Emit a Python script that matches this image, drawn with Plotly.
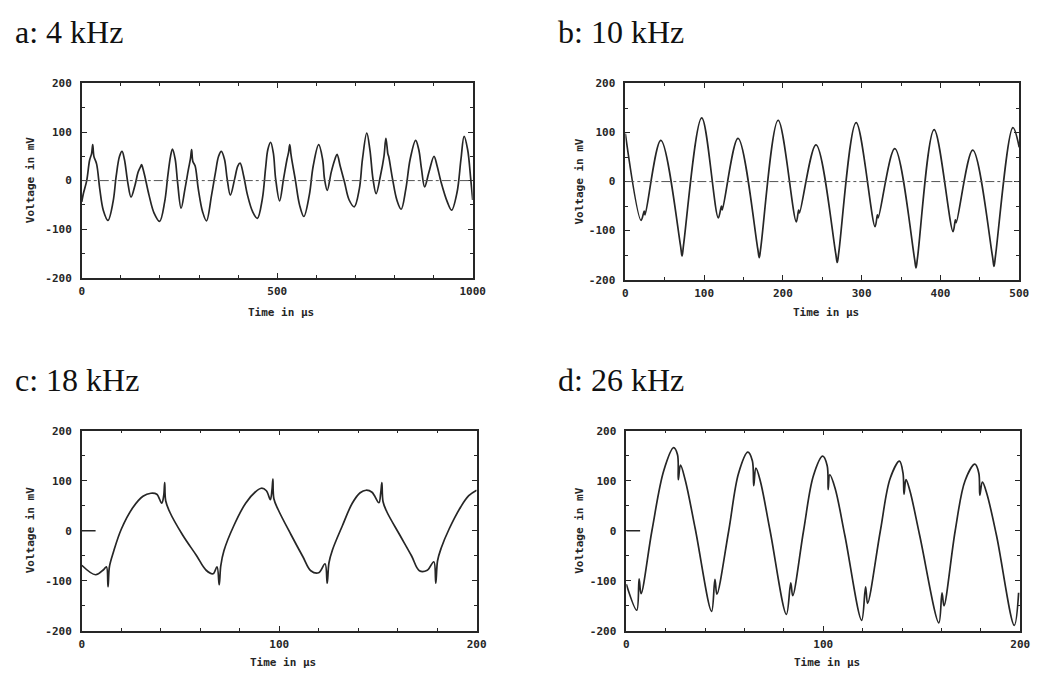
import plotly.graph_objects as go

W, H = 1046, 678

# ---------------- data ----------------
a_time = [0, 4, 12.6, 20, 25, 28, 31, 38, 46, 55, 67, 80, 88, 96.6, 103, 109, 117.5, 126,
          136, 144, 150, 153, 156, 161, 172, 185, 199, 212, 220, 227, 232, 239, 245, 254,
          264, 273, 278, 281, 284, 290, 298, 309, 319, 332, 342, 350, 357, 365, 372, 380,
          391, 399, 405, 414, 424, 437, 449, 462, 470, 476, 483, 490, 496, 506, 516, 525,
          529, 532, 535, 537, 546, 557, 568, 582, 592, 606, 616, 621, 628, 638, 648, 653,
          661, 672, 684, 697, 710, 718, 729, 737, 745, 753, 764, 773, 778, 783, 785, 795,
          806, 817, 829, 840, 854, 862, 869, 877, 888, 901, 909, 919, 935, 946, 960, 970,
          978, 987, 995, 1000]
a_volt = [-44, -27, 0, 42, 55, 74, 50, 34, -17, -61, -82, -44, 9, 50, 60, 44, -3, -34,
          -10, 17, 28, 33, 26, 10, -30, -67, -84, -44, 9, 50, 65, 44, -3, -57,
          -17, 24, 45, 64, 40, 30, -17, -64, -83, -30, 17, 50, 60, 44, 3, -30,
          3, 30, 36, 10, -30, -64, -78, -37, 24, 64, 79, 57, 3, -42, 3, 44,
          58, 74, 55, 44, 3, -50, -74, -30, 30, 74, 44, 3, -20, 17, 45, 54,
          30, -3, -40, -54, -17, 44, 98, 64, 3, -27, 10, 50, 87, 55, 50, 3,
          -40, -59, -17, 44, 83, 64, 24, -13, 17, 50, 30, -3, -44, -61, -24, 44,
          91, 64, 3, -40]

b_time = [0, 20, 24, 25, 45, 70, 72, 74, 97, 118, 122, 123, 143, 168, 170, 172, 194,
          217, 220, 221, 242, 267, 269, 271, 293, 317, 320, 321, 342, 367, 369, 371,
          392, 416, 419, 420, 441, 466, 468, 470, 492, 500]
b_volt = [98, -79, -60, -68, 84, -130, -152, -128, 130, -74, -50, -58, 88, -136, -155, -134, 125,
          -82, -58, -64, 75, -146, -165, -144, 120, -92, -68, -74, 67, -156, -176, -154,
          106, -102, -78, -84, 64, -152, -173, -150, 110, 70]

c_time = [0, 7, 11, 12.5, 13.3, 14, 16, 20, 26, 31, 35, 38, 40.5, 41.5, 42, 42.5, 44.5,
          51, 58, 63, 66.5, 68.5, 69.6, 70.4, 72, 77, 83, 88, 91, 93.5, 95.5, 96.3, 96.8,
          97.3, 99.5, 106, 112, 116, 120, 123.2, 124.3, 125.2, 127, 132, 137, 141, 144,
          147, 150.5, 151.4, 152, 152.6, 154.5, 161, 167, 171, 175, 178.3, 179.3, 180.2,
          182, 186, 192, 196, 200]
c_volt = [-69, -88, -78, -72, -112, -72, -43, 3, 47, 69, 75, 73, 55, 70, 96, 60, 38,
          -8, -49, -79, -86, -72, -108, -70, -40, 10, 55, 78, 85, 80, 62, 80, 103,
          64, 42, -8, -52, -80, -84, -66, -105, -64, -38, 10, 55, 76, 81,
          77, 56, 75, 96, 58, 38, -8, -50, -80, -79, -62, -105, -60,
          -35, 3, 48, 70, 81]

d_time = [0, 5.3, 6.5, 7.5, 13, 19, 24, 26, 26.4, 27.5, 30, 35, 43.3, 45, 46, 52, 57,
          61.7, 64, 64.7, 65.8, 68, 73, 81.3, 83.5, 84.5, 90, 95, 99.7, 102, 102.5,
          103.3, 106, 111, 119.5, 121.5, 122.5, 129, 134, 138.7, 140.5, 141, 142, 144,
          149, 158.7, 160.3, 161.3, 167, 172, 177, 179, 179.5, 180.8, 183, 188, 197, 199.2]
d_volt = [-107, -159, -96, -126, 0, 120, 166, 152, 102, 131, 100, 4, -161, -97, -127, 0, 115,
          157, 140, 90, 125, 100, 0, -167, -104, -130, 0, 110, 149, 130, 82,
          112, 85, -10, -179, -112, -145, 0, 105, 139, 115, 73, 102, 80,
          -10, -184, -124, -150, 0, 100, 133, 115, 71, 97, 75, -10, -189, -124]

titles = ["a: 4 kHz", "b: 10 kHz", "c: 18 kHz", "d: 26 kHz"]
x_ranges = [1000, 500, 200, 200]
x_tickvals = [[0, 500, 1000], [0, 100, 200, 300, 400, 500], [0, 100, 200], [0, 100, 200]]
x_minor = [100, 50, 20, 20]
y_tickvals = [-200, -100, 0, 100, 200]
x_title = "Time in µs"
y_title = "Voltage in mV"

series = [(a_time, a_volt), (b_time, b_volt), (c_time, c_volt), (d_time, d_volt)]

# ---------------- layout geometry (page pixels) ----------------
boxes = [  # left, right, top, bottom
    (80, 477, 79, 277),
    (632, 1032, 79, 279),
    (80, 481, 433, 637),
    (633, 1033, 433, 637),
]
title_pos = [(10, 27), (562, 27), (10, 381), (562, 381)]
ytitle_x = [28, 586, 28, 586]
xtitle_y = [312, 312, 669, 669]


def px(xp):
    return xp / W


def py(yp):
    return 1 - yp / H


INK = "#262626"
fig = go.Figure()
tick_font = dict(family="DejaVu Sans Mono", size=11, color=INK, weight="bold")
axis_font = dict(family="DejaVu Sans Mono", size=11, color=INK, weight="bold")

for i, ((t, v), (l, r, top, bot)) in enumerate(zip(series, boxes)):
    xa = "x" if i == 0 else f"x{i+1}"
    ya = "y" if i == 0 else f"y{i+1}"
    fig.add_trace(go.Scatter(
        x=t, y=v, mode="lines", xaxis=xa, yaxis=ya,
        line=dict(color=INK, width=1.7, shape="spline", smoothing=1.0),
        showlegend=False, hoverinfo="skip"))
    common = dict(showgrid=False, zeroline=False, showline=True, linecolor=INK,
                  linewidth=1.6, mirror="ticks", ticks="inside", tickcolor=INK,
                  ticklen=5, tickwidth=1.3, tickfont=tick_font)
    xk = "xaxis" if i == 0 else f"xaxis{i+1}"
    yk = "yaxis" if i == 0 else f"yaxis{i+1}"
    fig.layout[xk] = dict(
        domain=[px(l), px(r)], anchor=ya, range=[0, x_ranges[i]],
        tickvals=x_tickvals[i], ticktext=[str(k) for k in x_tickvals[i]],
        minor=dict(dtick=x_minor[i], tick0=0, ticks="inside", ticklen=3,
                   tickcolor=INK, tickwidth=1.2),
        ticklabelstandoff=2, **common)
    fig.layout[yk] = dict(
        domain=[py(bot), py(top)], anchor=xa, range=[-200, 200],
        tickvals=y_tickvals, ticktext=[str(k) for k in y_tickvals],
        minor=dict(dtick=50, tick0=0, ticks="inside", ticklen=3,
                   tickcolor=INK, tickwidth=1.2),
        ticklabelstandoff=6, **common)

    # zero reference line
    if i < 2:
        fig.add_shape(type="line", xref=xa, yref=ya, x0=0, x1=x_ranges[i], y0=0, y1=0,
                      line=dict(color="#555", width=1, dash="dashdot"))
    else:
        fig.add_shape(type="line", xref=xa, yref=ya, x0=0, x1=x_ranges[i] * 0.035, y0=0, y1=0,
                      line=dict(color=INK, width=1.4))

    # panel title
    fig.add_annotation(text=titles[i], xref="paper", yref="paper",
                       x=px(title_pos[i][0]), y=py(title_pos[i][1]),
                       xanchor="left", yanchor="middle", showarrow=False,
                       font=dict(family="Liberation Serif", size=32, color="#111"))
    # axis titles
    fig.add_annotation(text=y_title, xref="paper", yref="paper",
                       x=px(ytitle_x[i]), y=py((top + bot) / 2), textangle=-90,
                       xanchor="center", yanchor="middle", showarrow=False, font=axis_font)
    fig.add_annotation(text=x_title, xref="paper", yref="paper",
                       x=px((l + r) / 2 + 4), y=py(xtitle_y[i]),
                       xanchor="center", yanchor="middle", showarrow=False, font=axis_font)

fig.update_layout(width=W, height=H, margin=dict(l=0, r=0, t=0, b=0),
                  paper_bgcolor="white", plot_bgcolor="white", hovermode=False)
# remove the browser's default 8px body margin so the figure sits at the page origin
fig.write_html("out.html", config={"displayModeBar": False},
               post_script="document.body.style.margin='0';")
